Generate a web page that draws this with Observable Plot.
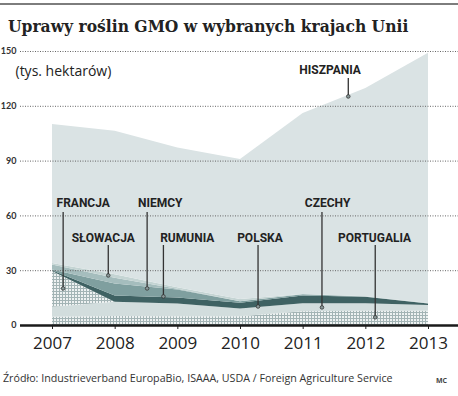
<!DOCTYPE html>
<html><head><meta charset="utf-8">
<script src="https://cdn.jsdelivr.net/npm/d3@7"></script>
<script src="https://cdn.jsdelivr.net/npm/@observablehq/plot@0.6"></script>
<style>
body{margin:0;background:#fff;}
#wrap{position:relative;width:458px;height:396px;overflow:hidden;}
#topline{position:absolute;left:0;top:3px;width:458px;height:2px;background:#7d7d7d;}
#title{position:absolute;left:8px;top:18px;font-family:"DejaVu Serif Condensed","DejaVu Serif",serif;font-weight:bold;font-size:17.3px;line-height:1;color:#222;white-space:nowrap;}
#chart{position:absolute;left:0;top:40px;}
#caption{position:absolute;left:3px;top:373px;font-family:"Open Sans",sans-serif;font-size:10.7px;line-height:1;color:#333;white-space:nowrap;}
#mc{position:absolute;left:436px;top:376px;font-family:"Open Sans",sans-serif;font-size:7px;font-weight:bold;color:#444;}
</style>
</head><body>
<div id="wrap">
<div id="topline"></div>
<div id="title">Uprawy roślin GMO w wybranych krajach Unii</div>
<div id="chart"></div>
<div id="caption">Źródło: Industrieverband EuropaBio, ISAAA, USDA / Foreign Agriculture Service</div>
<div id="mc">MC</div>
</div>
<script>
const years = [2007, 2008, 2009, 2010, 2011, 2012, 2013];
const countries = ["Portugalia", "Czechy", "Francja", "Polska", "Rumunia", "Niemcy", "Słowacja", "Hiszpania"];
const portugalia = [4.5, 4.9, 4.8, 4.8, 7.5, 7.8, 7.8];
const czechy     = [5.5, 7.8, 7.0, 4.2, 4.4, 4.1, 3.2];
const francja    = [19.5, 0, 0, 0, 0, 0, 0];
const polska     = [0.5, 3.5, 3.2, 3.2, 4.3, 3.5, 0.8];
const rumunia    = [0.4, 6.5, 4.5, 0.8, 0.6, 0.2, 0.1];
const niemcy     = [2.7, 3.2, 0.3, 0, 0, 0, 0];
const slowacja   = [0.9, 1.9, 0.9, 1.2, 0.2, 0.2, 0.1];
const hiszpania  = [76, 78.5, 76.5, 76.7, 99, 114, 137];
const yTicks = [0, 30, 60, 90, 120, 150];
const yTickLabels = ["0", "30", "60", "90", "120", "150"];

// annotations: label, text x/y, pointer x, pointer top, pointer bottom
const annLabels = ["HISZPANIA", "FRANCJA", "NIEMCY", "SŁOWACJA", "RUMUNIA", "POLSKA", "CZECHY", "PORTUGALIA"];
const annTextX  = [2011.43, 2007.49, 2008.72, 2007.81, 2009.15, 2010.31, 2011.39, 2012.14];
const annTextY  = [139.6, 66.8, 66.8, 47.9, 47.9, 47.9, 66.8, 47.9];
const annLineX  = [2011.72, 2007.17, 2008.51, 2007.89, 2008.77, 2010.28, 2011.30, 2012.15];
const annTop    = [135.2, 61.9, 61.9, 43.8, 43.8, 43.8, 61.9, 43.8];
const annBottom = [125.4, 20.3, 20.3, 27.4, 15.9, 10.4, 9.9, 4.5];

const series = [portugalia, czechy, francja, polska, rumunia, niemcy, slowacja, hiszpania];
const fills = ["url(#dots)", "#d2dddd", "url(#dots)", "#3f6263", "#7f9f9f", "#a5bdbd", "#c4d4d3", "#dae3e4"];

const table = [];
countries.forEach((c, i) => years.forEach((yr, j) => table.push({country: c, year: yr, value: series[i][j]})));
const ann = annLabels.map((t, i) => ({t, tx: annTextX[i], ty: annTextY[i], lx: annLineX[i], top: annTop[i], bottom: annBottom[i]}));
const yt = yTicks.map((v, i) => ({v, label: yTickLabels[i]}));

const chart = Plot.plot({
  width: 458,
  height: 320,
  marginLeft: 52,
  marginRight: 30,
  marginTop: 11,
  marginBottom: 35,
  style: {fontFamily: "'Open Sans', sans-serif", fontSize: "17px", color: "#222", background: "transparent"},
  x: {domain: [2007, 2013], ticks: years, tickFormat: d => String(d), tickSize: 4, tickPadding: 7, label: null},
  y: {domain: [0, 150], axis: null},
  color: {domain: countries, range: fills},
  marks: [
    Plot.areaY(table, Plot.stackY({x: "year", y: "value", fill: "country", order: null})),
    Plot.ruleY(yTicks.filter(d => d > 0), {stroke: "#666", strokeWidth: 1, strokeDasharray: "1,1.5", insetLeft: -32, insetRight: -30}),
    Plot.ruleY([0], {stroke: "#1a1a1a", strokeWidth: 2.5, insetLeft: -32, insetRight: -30}),
    Plot.text(yt, {x: 2007, y: "v", text: "label", textAnchor: "end", dx: -36, fontSize: 9, fontWeight: "bold", fill: "#333", fontFamily: "Lato, sans-serif"}),
    Plot.text(["(tys. hektarów)"], {frameAnchor: "top-left", dx: -37, dy: 15, textAnchor: "start", fontSize: 14, fill: "#222"}),
    Plot.ruleX(ann, {x: "lx", y1: "bottom", y2: "top", stroke: "#333", strokeWidth: 1.3}),
    Plot.dot(ann, {x: "lx", y: "bottom", r: 1.8, fill: "#8a9a9a", stroke: "#333", strokeWidth: 0.8}),
    Plot.text(ann, {x: "tx", y: "ty", text: "t", fontSize: 12, fontWeight: "bold", fill: "#222", fontFamily: "Roboto, sans-serif"})
  ]
});

const svgEl = chart.tagName.toLowerCase() === "svg" ? chart : chart.querySelector("svg");
const defs = d3.select(svgEl).insert("defs", ":first-child");
const pat = defs.append("pattern").attr("id", "dots").attr("width", 3).attr("height", 3).attr("patternUnits", "userSpaceOnUse");
pat.append("rect").attr("width", 3).attr("height", 3).attr("fill", "#a3b4b5");
pat.append("rect").attr("width", 2).attr("height", 2).attr("fill", "#eef2f2");
document.getElementById("chart").appendChild(chart);
</script>
</body></html>
